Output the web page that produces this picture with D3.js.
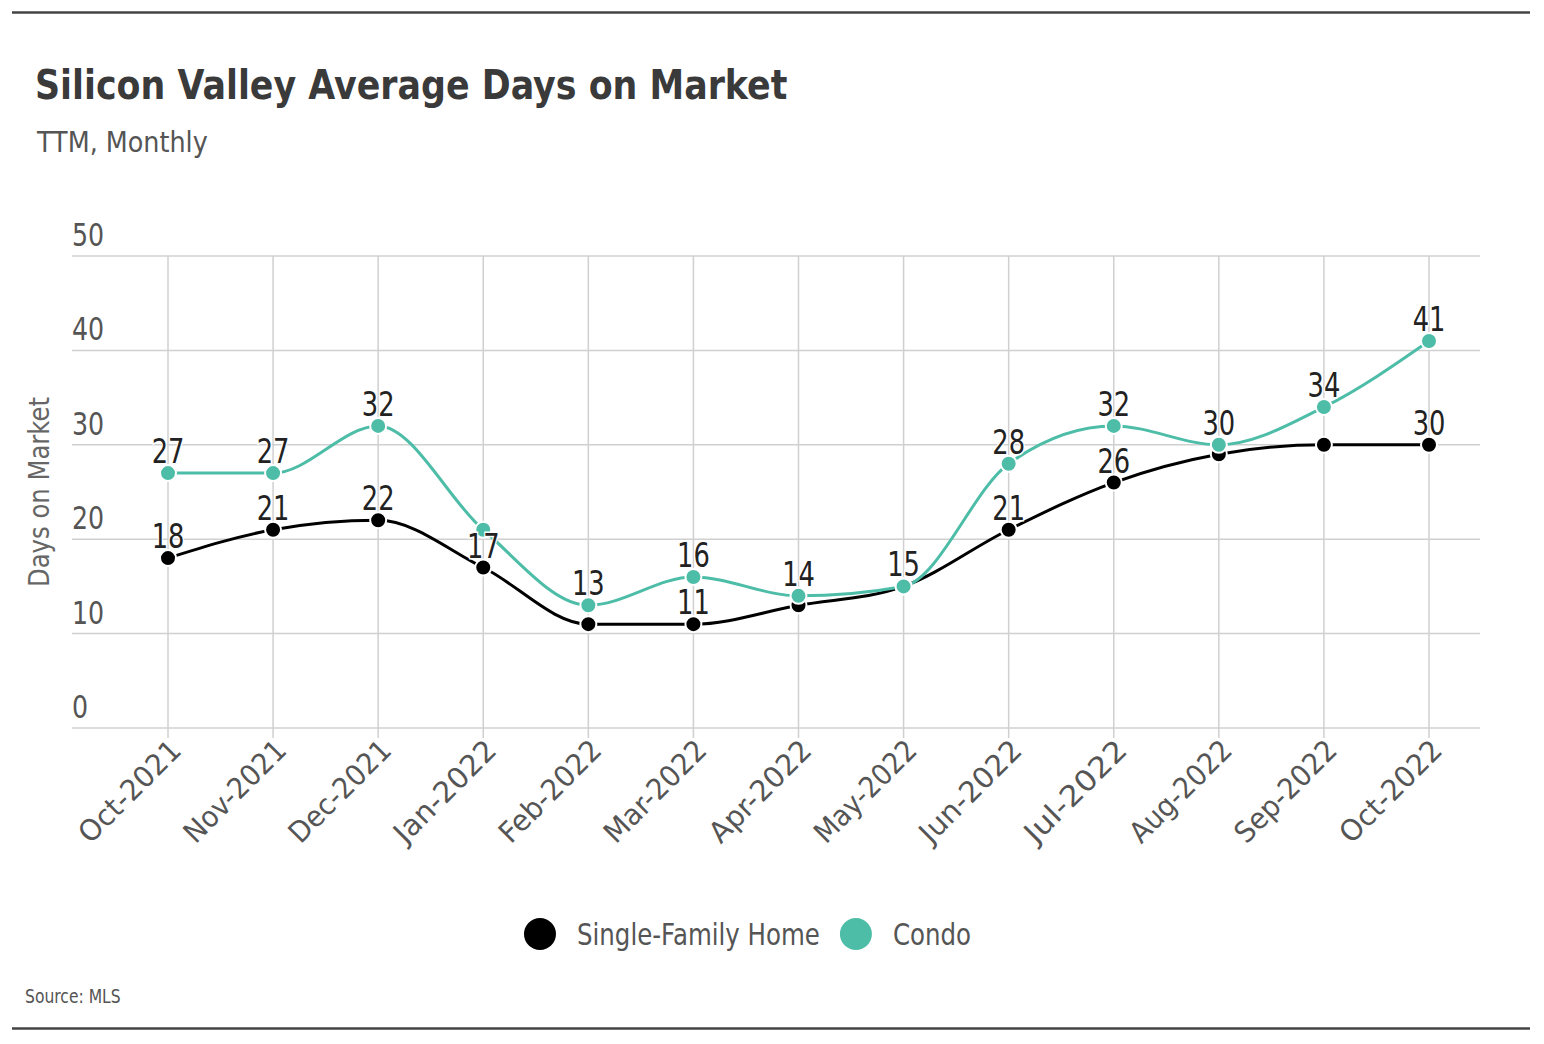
<!DOCTYPE html>
<html><head><meta charset="utf-8">
<script src="https://cdn.jsdelivr.net/npm/d3@7"></script>
<style>
html,body{margin:0;padding:0;background:#fff;}
svg text{font-family:"DejaVu Sans",sans-serif;}
</style></head>
<body><svg id="c" width="1544" height="1044"></svg>
<script>
const categories = ["Oct-2021","Nov-2021","Dec-2021","Jan-2022","Feb-2022","Mar-2022","Apr-2022","May-2022","Jun-2022","Jul-2022","Aug-2022","Sep-2022","Oct-2022"];
const singleFamily = [18,21,22,17,11,11,13,15,21,26,29,30,30];
const condo = [27,27,32,21,13,16,14,15,28,32,30,34,41];
const singleFamilyLabelShown = [1,1,1,1,0,1,0,0,1,1,0,0,1];
const condoLabelShown = [1,1,1,0,1,1,1,1,1,1,1,1,1];
const yTicks = [0,10,20,30,40,50];
const seriesNames = ["Single-Family Home","Condo"];
const colors = ["#000000","#4dbda8"];

const svg = d3.select("#c");
const plotL = 72, plotR = 1480, plotT = 256, plotB = 728;
const x = d3.scalePoint().domain(categories).range([168,1429]);
const y = d3.scaleLinear().domain([0,50]).range([plotB,plotT]);

function txt(parent, tx, ty, str, size, fill, sx, anchor){
  return parent.append("text").attr("transform",`translate(${tx},${ty}) scale(${sx},1)`)
    .attr("font-size",size).attr("fill",fill).attr("text-anchor",anchor||"start").text(str);
}

svg.append("line").attr("x1",12).attr("x2",1530).attr("y1",12.5).attr("y2",12.5).attr("stroke","#444").attr("stroke-width",2.5);
svg.append("line").attr("x1",12).attr("x2",1530).attr("y1",1028.5).attr("y2",1028.5).attr("stroke","#444").attr("stroke-width",2.5);

txt(svg,35,99,"Silicon Valley Average Days on Market",41,"#3a3a3a",0.85).attr("font-weight","bold");
txt(svg,37,152,"TTM, Monthly",28,"#555",0.91);

const gy = svg.append("g");
gy.selectAll("line").data(yTicks).join("line").attr("x1",plotL).attr("x2",plotR)
  .attr("y1",d=>y(d)).attr("y2",d=>y(d)).attr("stroke","#d0d0d0").attr("stroke-width",1.5);
yTicks.forEach(d=>txt(gy,plotL,y(d)-10,d,32,"#555",0.79));

svg.append("g").selectAll("line").data(categories).join("line")
  .attr("x1",d=>x(d)).attr("x2",d=>x(d)).attr("y1",plotT).attr("y2",plotB+10)
  .attr("stroke","#d0d0d0").attr("stroke-width",1.5);

svg.append("g").selectAll("text").data(categories).join("text")
  .attr("transform",d=>`translate(${x(d)+15},${plotB+24}) rotate(-45)`)
  .attr("text-anchor","end").attr("font-size",29).attr("fill","#555").text(d=>d)
  .attr("textLength",131).attr("lengthAdjust","spacingAndGlyphs");

svg.append("text").attr("transform","translate(49,492) rotate(-90)").attr("text-anchor","middle")
  .attr("font-size",28).attr("fill","#666").text("Days on Market")
  .attr("textLength",190).attr("lengthAdjust","spacingAndGlyphs");

const line = d3.line().x((d,i)=>x(categories[i])).y(d=>y(d)).curve(d3.curveMonotoneX);
const series = [singleFamily, condo];
const shown = [singleFamilyLabelShown, condoLabelShown];
series.forEach((s,k)=>{
  svg.append("path").datum(s).attr("d",line).attr("fill","none").attr("stroke",colors[k]).attr("stroke-width",3);
});
series.forEach((s,k)=>{
  svg.append("g").selectAll("circle").data(s).join("circle")
    .attr("cx",(d,i)=>x(categories[i])).attr("cy",d=>y(d)).attr("r",8)
    .attr("fill",colors[k]).attr("stroke","#fff").attr("stroke-width",2);
});
series.forEach((s,k)=>{
  const g = svg.append("g");
  s.forEach((v,i)=>{
    if(!shown[k][i]) return;
    txt(g,x(categories[i]),y(v)-10,v,33,"#222",0.78,"middle")
      .attr("stroke","#fff").attr("stroke-width",3).attr("paint-order","stroke");
  });
});

const lg = svg.append("g");
let cx = 0;
seriesNames.forEach((n,k)=>{
  lg.append("circle").attr("cx",cx+16).attr("cy",934).attr("r",16).attr("fill",colors[k]);
  const t = txt(lg,cx+53,945,n,31,"#555",0.79);
  cx += 53 + t.node().getComputedTextLength()*0.79 + 20;
});
const totalW = cx - 20;
lg.attr("transform",`translate(${(528+967)/2 - totalW/2},0)`);

txt(svg,25,1003,"Source: MLS",19,"#555",0.82);
</script></body></html>
